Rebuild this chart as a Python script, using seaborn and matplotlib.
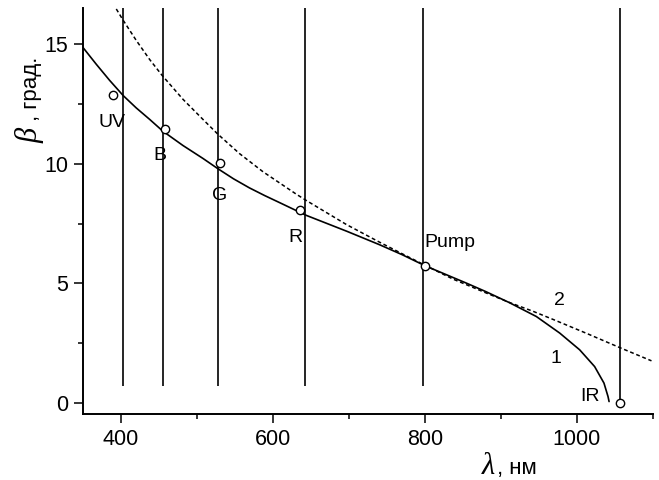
import numpy as np
import pandas as pd
import matplotlib
matplotlib.use("Agg")
import matplotlib.pyplot as plt
import seaborn as sns

# ---- data ----
curve1_x = [350, 367.5, 385, 403, 420, 437.7, 455, 481.5, 507.8, 528, 548, 569, 589, 609,
            644, 697, 740, 770, 800, 854, 880, 911, 946.5, 977.2, 1003.5, 1023.2,
            1035.5, 1040.8, 1042.2]
curve1_y = [14.85, 14.15, 13.48, 12.84, 12.33, 11.85, 11.36, 10.76, 10.22, 9.78, 9.37, 8.99, 8.67, 8.37,
            7.84, 7.18, 6.62, 6.2, 5.74, 5.02, 4.66, 4.2, 3.62, 2.93, 2.23, 1.53,
            0.84, 0.28, 0.07]

curve2_x = [393.8, 402.6, 420, 437.7, 454, 481.5, 507.8, 527.5, 556, 587, 631, 644,
            696.6, 740.4, 775.5, 800, 837, 880.7, 911.5, 942, 968.4, 1012.3, 1056.4, 1098]
curve2_y = [16.46, 16.0, 15.15, 14.35, 13.69, 12.69, 11.85, 11.23, 10.42, 9.66, 8.72, 8.46,
            7.46, 6.72, 6.15, 5.76, 5.18, 4.6, 4.2, 3.84, 3.5, 2.92, 2.32, 1.77]

laser_lines = [403, 455, 528, 642, 798]
ir_line = 1056

point_names = ["UV", "B", "G", "R", "Pump", "IR"]
point_x = [389, 458, 530, 635, 800, 1056]
point_y = [12.87, 11.46, 10.01, 8.05, 5.73, 0.0]

label_x = [388.5, 451, 530, 629, 799, 1017.6]
label_y = [11.55, 10.15, 8.5, 6.72, 6.54, 0.11]

curve_names = ["1", "2"]
curve_label_x = [972.5, 977]
curve_label_y = [1.67, 4.11]

x_major = [400, 600, 800, 1000]
x_minor = [500, 700, 900, 1100]
y_major = [0, 5, 10, 15]
y_minor = [2.5, 7.5, 12.5]

# ---- figure ----
sns.set_style("ticks")
plt.rcParams['font.family'] = ['Liberation Sans', 'DejaVu Sans']
plt.rcParams['text.color'] = 'black'

fig = plt.figure(figsize=(6.59, 4.80), dpi=100)
ax = fig.add_axes([83 / 659, 1 - 414 / 480, 570 / 659, 406 / 480])

ax.vlines(laser_lines, 0.7, 16.6, color="black", lw=1.2)
ax.vlines([ir_line], 0.0, 16.6, color="black", lw=1.2)

df1 = pd.DataFrame({"x": curve1_x, "y": curve1_y})
df2 = pd.DataFrame({"x": curve2_x, "y": curve2_y})
sns.lineplot(data=df1, x="x", y="y", ax=ax, color="black", lw=1.2, sort=False)
sns.lineplot(data=df2, x="x", y="y", ax=ax, color="black", lw=1.1, sort=False,
             linestyle=(0, (2.5, 1.8)))

ax.plot(point_x, point_y, linestyle="none", marker="o", ms=6, mfc="white",
        mec="black", mew=1.0, zorder=5)

for name, lx, ly in zip(point_names, label_x, label_y):
    ha = "left" if name == "Pump" else "center"
    ax.text(lx, ly, name, ha=ha, va="baseline", fontsize=14, color="black")
for name, lx, ly in zip(curve_names, curve_label_x, curve_label_y):
    ax.text(lx, ly, name, ha="center", va="baseline", fontsize=14, color="black")

ax.set_xlim(350, 1100)
ax.set_ylim(-0.45, 16.5)
ax.set_xticks(x_major)
ax.set_xticks(x_minor, minor=True)
ax.set_yticks(y_major)
ax.set_yticks(y_minor, minor=True)
ax.tick_params(axis="both", which="major", direction="out", length=6.5, width=1.1,
               labelsize=15.5, pad=4, color="black", labelcolor="black")
ax.tick_params(axis="both", which="minor", direction="out", length=3.8, width=1.1,
               color="black")
ax.set_xlabel("")
ax.set_ylabel("")
for s in ["top", "right"]:
    ax.spines[s].set_visible(False)
for s in ["left", "bottom"]:
    ax.spines[s].set_linewidth(1.4)
    ax.spines[s].set_color("black")

# axis labels (Greek letter in italic serif, rest in sans)
fig.text(495 / 659, 1 - 474 / 480, "λ", ha="right", va="baseline", fontsize=22,
         family="Liberation Serif", style="italic", color="black")
fig.text(497 / 659, 1 - 474 / 480, ", нм", ha="left", va="baseline", fontsize=16,
         color="black")
fig.text(37 / 659, 1 - 143 / 480, "β", rotation=90, rotation_mode="anchor",
         ha="left", va="baseline", fontsize=22, family="Liberation Serif", style="italic",
         color="black")
fig.text(37 / 659, 1 - 121 / 480, ", град.", rotation=90, rotation_mode="anchor",
         ha="left", va="baseline", fontsize=16, color="black")

fig.savefig("out.png", dpi=100)
